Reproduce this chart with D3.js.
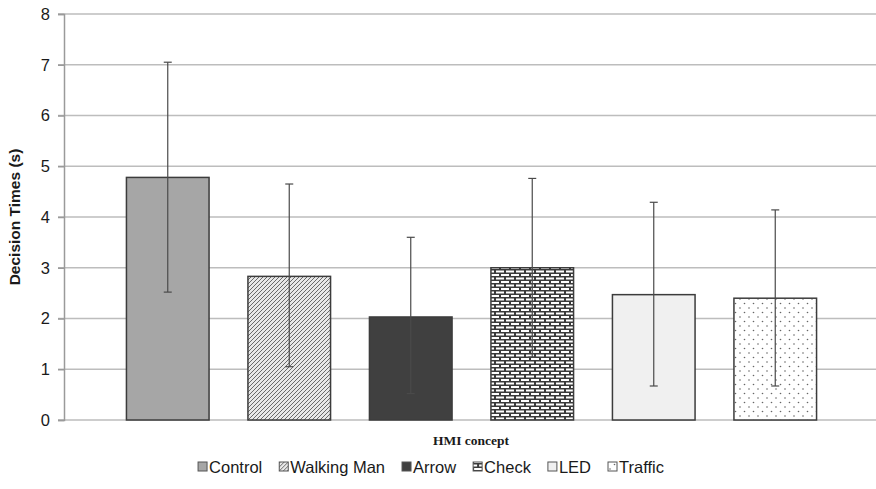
<!DOCTYPE html>
<html>
<head>
<meta charset="utf-8">
<script src="https://cdn.jsdelivr.net/npm/d3@7"></script>
<style>
  body { margin: 0; background: #fff; }
  svg text { font-family: "Liberation Sans", Arial, sans-serif; }
</style>
</head>
<body>
<div id="chart"></div>
<script>
const concepts = ['Control', 'Walking Man', 'Arrow', 'Check', 'LED', 'Traffic'];
const meanTimes = [4.78, 2.83, 2.03, 3.0, 2.47, 2.4];
const errUpper = [7.05, 4.65, 3.6, 4.76, 4.29, 4.14];
const errLower = [2.52, 1.05, 0.52, 1.24, 0.67, 0.67];
const yTicks = [0, 1, 2, 3, 4, 5, 6, 7, 8];

const width = 876, height = 489;
const margin = {top: 14, bottom: 69, left: 64, right: 0};

const svg = d3.select('#chart').append('svg')
  .attr('width', width)
  .attr('height', height);

const defs = svg.append('defs');

// diagonal hatch
const hatch = defs.append('pattern')
  .attr('id', 'hatch').attr('patternUnits', 'userSpaceOnUse')
  .attr('width', 4).attr('height', 4);
hatch.append('rect').attr('width', 4).attr('height', 4).attr('fill', '#e8e8e8');
hatch.append('path').attr('d', 'M-1,1 l2,-2 M0,4 l4,-4 M3,5 l2,-2')
  .attr('stroke', '#6a6a6a').attr('stroke-width', 1);

// brick
const brick = defs.append('pattern')
  .attr('id', 'brick').attr('patternUnits', 'userSpaceOnUse')
  .attr('width', 10).attr('height', 7);
brick.append('rect').attr('width', 10).attr('height', 7).attr('fill', '#3a3a3a');
brick.append('rect').attr('x', 1).attr('y', 1).attr('width', 8).attr('height', 2).attr('fill', '#fff');
brick.append('rect').attr('x', 6).attr('y', 4.5).attr('width', 8).attr('height', 2).attr('fill', '#fff');
brick.append('rect').attr('x', -4).attr('y', 4.5).attr('width', 8).attr('height', 2).attr('fill', '#fff');

// dots
const dots = defs.append('pattern')
  .attr('id', 'dots').attr('patternUnits', 'userSpaceOnUse')
  .attr('width', 9).attr('height', 9);
dots.append('rect').attr('width', 9).attr('height', 9).attr('fill', '#fff');
dots.append('circle').attr('cx', 2).attr('cy', 2).attr('r', 0.8).attr('fill', '#666');
dots.append('circle').attr('cx', 6.5).attr('cy', 6.5).attr('r', 0.8).attr('fill', '#666');

const fills = ['#a6a6a6', 'url(#hatch)', '#404040', 'url(#brick)', '#f0f0f0', 'url(#dots)'];

const y = d3.scaleLinear().domain([0, 8]).range([height - margin.bottom, margin.top]);
const x = d3.scaleBand().domain(concepts).range([107, 836]).paddingInner(0.32).paddingOuter(0.16);

// gridlines
svg.append('g')
  .selectAll('line')
  .data(yTicks)
  .enter().append('line')
  .attr('x1', margin.left - 6).attr('x2', width)
  .attr('y1', d => y(d)).attr('y2', d => y(d))
  .attr('stroke', '#bdbdbd').attr('stroke-width', 1.5);

// y axis
const yAxis = d3.axisLeft(y).tickValues(yTicks).tickSize(6).tickPadding(8);
const ya = svg.append('g')
  .attr('transform', 'translate(' + margin.left + ',0)')
  .call(yAxis);
ya.select('.domain').attr('stroke', '#9a9a9a').attr('stroke-width', 1.5);
ya.selectAll('.tick line').attr('stroke', '#9a9a9a').attr('stroke-width', 1.5);
ya.selectAll('.tick text')
  .attr('font-size', 16.5).attr('fill', '#1a1a1a')
  .attr('font-family', '"Liberation Sans", Arial, sans-serif');

// bars
svg.append('g')
  .selectAll('rect')
  .data(concepts)
  .enter().append('rect')
  .attr('x', d => x(d))
  .attr('width', x.bandwidth())
  .attr('y', (d, i) => y(meanTimes[i]))
  .attr('height', (d, i) => y(0) - y(meanTimes[i]))
  .attr('fill', (d, i) => fills[i])
  .attr('stroke', '#3c3c3c')
  .attr('stroke-width', 1.5);

// error bars
const eb = svg.append('g')
  .selectAll('g')
  .data(concepts)
  .enter().append('g')
  .attr('stroke', '#4a4a4a').attr('stroke-width', 1.2);
eb.append('line')
  .attr('x1', d => x(d) + x.bandwidth() / 2).attr('x2', d => x(d) + x.bandwidth() / 2)
  .attr('y1', (d, i) => y(errUpper[i])).attr('y2', (d, i) => y(errLower[i]));
eb.append('line')
  .attr('x1', d => x(d) + x.bandwidth() / 2 - 4).attr('x2', d => x(d) + x.bandwidth() / 2 + 4)
  .attr('y1', (d, i) => y(errUpper[i])).attr('y2', (d, i) => y(errUpper[i]));
eb.append('line')
  .attr('x1', d => x(d) + x.bandwidth() / 2 - 4).attr('x2', d => x(d) + x.bandwidth() / 2 + 4)
  .attr('y1', (d, i) => y(errLower[i])).attr('y2', (d, i) => y(errLower[i]));

// axis titles
svg.append('text')
  .attr('transform', 'translate(20,' + ((y(0) + y(8)) / 2) + ') rotate(-90)')
  .attr('text-anchor', 'middle')
  .attr('font-size', 15.5).attr('font-weight', 'bold').attr('fill', '#1a1a1a')
  .text('Decision Times (s)');

svg.append('text')
  .attr('x', 471).attr('y', 445)
  .attr('text-anchor', 'middle')
  .style('font-family', '"Liberation Serif", "Times New Roman", serif')
  .attr('font-size', 13.5).attr('font-weight', 'bold').attr('fill', '#1a1a1a')
  .text('HMI concept');

// legend, laid out from measured text widths and centred
const lg = svg.append('g').attr('transform', 'translate(0,467)');
const items = lg.selectAll('g')
  .data(concepts)
  .enter().append('g');
items.append('rect')
  .attr('x', 0).attr('y', -5).attr('width', 9).attr('height', 9)
  .attr('fill', (d, i) => fills[i])
  .attr('stroke', '#555').attr('stroke-width', 1);
items.append('text')
  .attr('x', 11).attr('y', 5.5)
  .attr('font-size', 16.5).attr('fill', '#1a1a1a')
  .text(d => d);
let cursor = 0;
const offsets = [];
items.each(function() {
  offsets.push(cursor);
  cursor += 11 + this.querySelector('text').getComputedTextLength() + 17;
});
const total = cursor - 17;
const startX = 431 - total / 2;
items.attr('transform', (d, i) => 'translate(' + (startX + offsets[i]) + ',0)');
</script>
</body>
</html>
